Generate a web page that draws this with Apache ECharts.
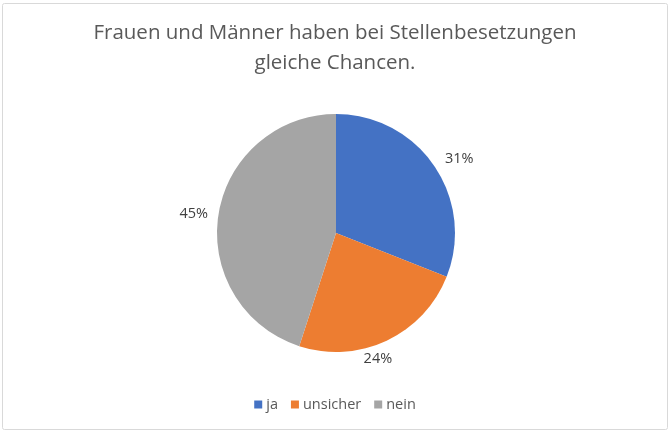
<!DOCTYPE html>
<html><head><meta charset="utf-8">
<script src="https://cdn.jsdelivr.net/npm/echarts@6/dist/echarts.min.js"></script>
<style>html,body{margin:0;padding:0;background:#fff}#c{width:670px;height:432px}</style>
</head><body><div id="c"></div>
<script>
const titleText = 'Frauen und Männer haben bei Stellenbesetzungen\ngleiche Chancen.';
const categories = ['ja', 'unsicher', 'nein'];
const values = [31, 24, 45];
const colors = ['#4472C4', '#ED7D31', '#A5A5A5'];
// label nudges (layout config, not data)
const labelNudge = [[5, 6], [-19, -4], [-1, 3]];

const data = categories.map((n, i) => ({ name: n, value: values[i] }));
const labelData = categories.map((n, i) => ({ name: n, value: values[i], label: { offset: labelNudge[i] } }));
const chart = echarts.init(document.getElementById('c'), null, { renderer: 'canvas' });
chart.setOption({
  animation: false,
  color: colors,
  graphic: [{
    type: 'rect',
    shape: { x: 2.5, y: 3.5, width: 665, height: 426, r: 2 },
    style: { fill: 'none', stroke: '#D9D9D9', lineWidth: 1 }, z: -1
  }],
  title: {
    text: titleText, left: 'center', top: 13,
    textStyle: { fontFamily: 'Open Sans', fontSize: 20.5, fontWeight: 'normal', color: '#595959', lineHeight: 30 }
  },
  legend: {
    data: categories, bottom: 15, left: 'center',
    icon: 'rect', itemWidth: 8, itemHeight: 8, itemGap: 13, itemStyle: {},
    textStyle: { fontFamily: 'Open Sans', fontSize: 14.5, color: '#595959', padding: [0, 0, 0, -1] }
  },
  series: [{
    type: 'pie', center: [336, 233], radius: 119, startAngle: 90, clockwise: true,
    data: data, label: { show: false }, labelLine: { show: false },
    emphasis: { disabled: true }
  }, {
    type: 'pie', center: [336, 233], radius: [119, 161], startAngle: 90, clockwise: true,
    silent: true, data: labelData,
    itemStyle: { color: 'rgba(0,0,0,0)' },
    label: { show: true, position: 'inside', formatter: '{d}%', fontFamily: 'Open Sans', fontSize: 14.5, color: '#404040' },
    labelLine: { show: false }, emphasis: { disabled: true }
  }]
});
</script></body></html>
